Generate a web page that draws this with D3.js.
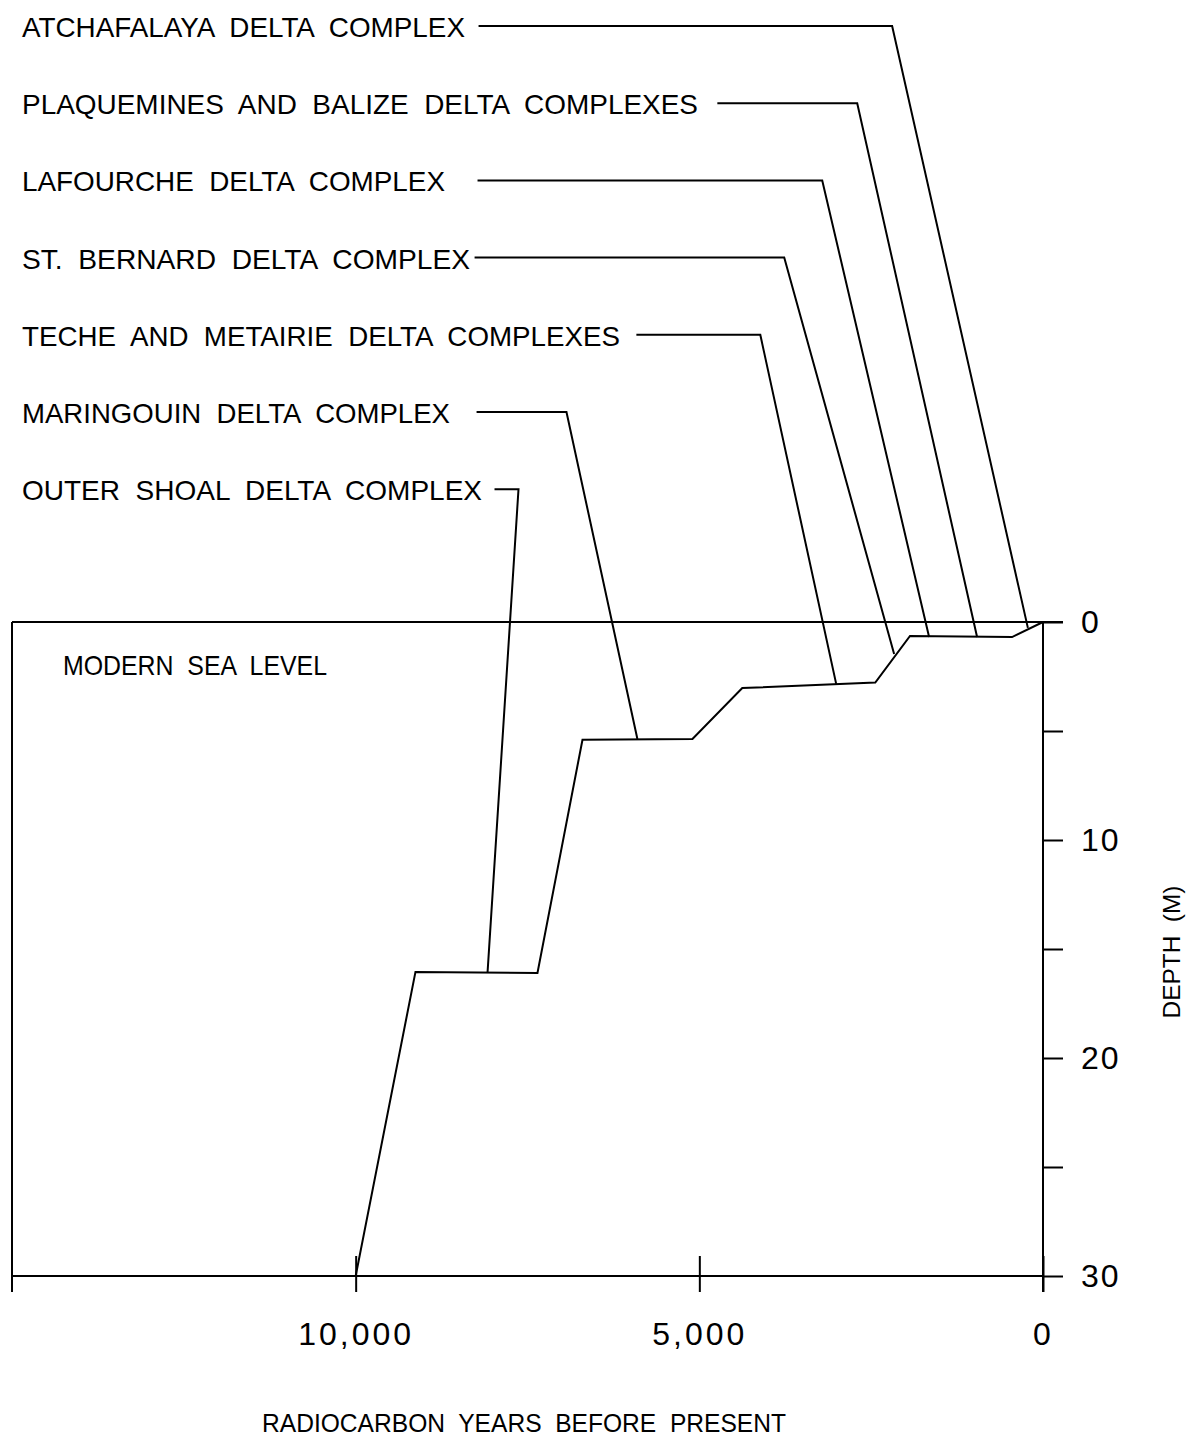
<!DOCTYPE html>
<html>
<head>
<meta charset="utf-8">
<script src="https://cdn.jsdelivr.net/npm/d3@7"></script>
<style>
  html, body { margin: 0; padding: 0; background: #fff; }
  svg text { font-family: "Liberation Sans", Arial, sans-serif; fill: #000; white-space: pre; }
</style>
</head>
<body>
<svg id="chart" width="1191" height="1442"></svg>
<script>
// ---- data ----
const curveYears  = [10000, 9130, 7355, 6700, 5100, 4375, 2440, 1935, 450, 0];
const curveDepths = [30, 16.05, 16.1, 5.4, 5.37, 3.03, 2.78, 0.64, 0.69, 0];

const labels = [
  "ATCHAFALAYA  DELTA  COMPLEX",
  "PLAQUEMINES  AND  BALIZE  DELTA  COMPLEXES",
  "LAFOURCHE  DELTA  COMPLEX",
  "ST.  BERNARD  DELTA  COMPLEX",
  "TECHE  AND  METAIRIE  DELTA  COMPLEXES",
  "MARINGOUIN  DELTA  COMPLEX",
  "OUTER  SHOAL  DELTA  COMPLEX"
];
// leader anchors (years before present / depth in m)
const leaderStartYears = [8212, 4738, 8227, 8270, 5916, 8241, 7980];
const leaderCornerYears = [2195, 2703, 3212, 3765, 4113, 6933, 7631];
const leaderEndYears = [220, 959, 1657, 2166, 3009, 5901, 8081];
const leaderEndDepths = [0.27, 0.69, 0.69, 1.47, 2.84, 5.37, 16.06];
const labelWidths = [443, 676, 423, 448, 598, 428, 460];

const xTicks = [10000, 5000, 0];
const xTickLabels = ["10,000", "5,000", "0"];
const yTicks = [0, 5, 10, 15, 20, 25, 30];
const yTickLabels = ["0", "", "10", "", "20", "", "30"];

// ---- layout ----
const svg = d3.select("#chart");
const x = d3.scaleLinear().domain([15000, 0]).range([12, 1043]);
const y = d3.scaleLinear().domain([0, 30]).range([622, 1276]);
const rowY = i => 26 + i * 77.2;
const stroke = 2;

// frame
const g = svg.append("g").attr("stroke", "#000").attr("stroke-width", stroke).attr("fill", "none");
g.append("line").attr("x1", x(15000)).attr("x2", x(0) + 20).attr("y1", y(0)).attr("y2", y(0));
g.append("line").attr("x1", x(15000)).attr("x2", x(15000)).attr("y1", y(0)).attr("y2", y(30) + 16);
g.append("line").attr("x1", x(0)).attr("x2", x(0)).attr("y1", y(0)).attr("y2", y(30) + 16);
g.append("line").attr("x1", x(15000)).attr("x2", x(0)).attr("y1", y(30)).attr("y2", y(30));

// right axis
const yAxis = d3.axisRight(y).tickValues(yTicks).tickSize(20).tickPadding(18)
  .tickFormat((d, i) => yTickLabels[i]);
const ya = svg.append("g").attr("transform", `translate(${x(0)},0)`).call(yAxis);
ya.select(".domain").remove();
ya.selectAll("line").attr("stroke", "#000").attr("stroke-width", stroke);
ya.selectAll("text").attr("font-size", 32).attr("letter-spacing", 2)
  .attr("font-family", "Liberation Sans, Arial, sans-serif");

// bottom axis
const xAxis = d3.axisBottom(x).tickValues(xTicks).tickSize(16).tickPadding(30)
  .tickFormat((d, i) => xTickLabels[i]);
const xa = svg.append("g").attr("transform", `translate(0,${y(30)})`).call(xAxis);
xa.select(".domain").remove();
xa.selectAll("line").attr("stroke", "#000").attr("stroke-width", stroke).attr("y1", -20);
xa.selectAll("text").attr("font-size", 32).attr("letter-spacing", 3)
  .attr("font-family", "Liberation Sans, Arial, sans-serif");

// curve
const line = d3.line().x(d => x(d[0])).y(d => y(d[1]));
svg.append("path").datum(curveYears.map((v, i) => [v, curveDepths[i]]))
  .attr("d", line).attr("fill", "none").attr("stroke", "#000").attr("stroke-width", stroke)
  .attr("stroke-linejoin", "miter");

// labels and leaders
labels.forEach((t, i) => {
  const ry = rowY(i);
  svg.append("text").attr("x", 22).attr("y", ry + 11).attr("font-size", 28)
    .attr("textLength", labelWidths[i]).attr("lengthAdjust", "spacingAndGlyphs").text(t);
  svg.append("path")
    .attr("d", d3.line()([[x(leaderStartYears[i]), ry], [x(leaderCornerYears[i]), ry],
                          [x(leaderEndYears[i]), y(leaderEndDepths[i])]]))
    .attr("fill", "none").attr("stroke", "#000").attr("stroke-width", stroke);
});

svg.append("text").attr("x", 63).attr("y", 675).attr("font-size", 28)
  .attr("textLength", 264).attr("lengthAdjust", "spacingAndGlyphs").text("MODERN  SEA  LEVEL");

svg.append("text").attr("x", 524).attr("y", 1432).attr("text-anchor", "middle").attr("font-size", 26)
  .attr("textLength", 524).attr("lengthAdjust", "spacingAndGlyphs").text("RADIOCARBON  YEARS  BEFORE  PRESENT");

svg.append("text").attr("transform", "translate(1180,952) rotate(-90)").attr("text-anchor", "middle")
  .attr("font-size", 24).attr("textLength", 133).attr("lengthAdjust", "spacingAndGlyphs").text("DEPTH  (M)");
</script>
</body>
</html>
